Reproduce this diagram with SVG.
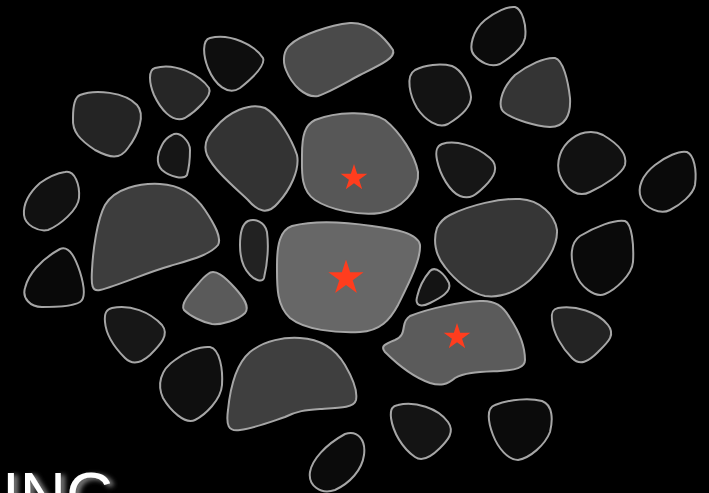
<svg xmlns="http://www.w3.org/2000/svg" xmlns:xlink="http://www.w3.org/1999/xlink" width="709" height="493" viewBox="0 0 709 493">
<style>
.b{stroke:#a6a6a6;stroke-width:2;stroke-linejoin:round}
.s{fill:#ff3d1e}
.t{font-family:"Liberation Sans",Arial,sans-serif;font-size:64px;fill:#ffffff}
</style>
<defs>
<polygon id="star" points="0,-10 2.245,-3.09 9.51,-3.09 3.63,1.18 5.88,8.09 0,3.82 -5.88,8.09 -3.63,1.18 -9.51,-3.09 -2.245,-3.09"/>
<filter id="glow" x="-20%" y="-20%" width="140%" height="140%">
<feGaussianBlur in="SourceAlpha" stdDeviation="2.5" result="bl"/>
<feOffset in="bl" dx="4" dy="2" result="of"/>
<feFlood flood-color="#888888"/>
<feComposite in2="of" operator="in" result="sh"/>
<feMerge><feMergeNode in="sh"/><feMergeNode in="SourceGraphic"/></feMerge>
</filter>
</defs>
<rect width="709" height="493" fill="#000"/>
<g id="blobs">
<g id="b1"><path class="b" fill="#4a4a4a" d="M290,45 C300,35 330,25 350,23 C370,22 385,38 393,50 C396,58 380,65 360,75 C345,83 330,92 318,96 C305,98 292,85 286,70 C282,60 284,50 290,45 Z"/></g>
<g id="b2"><path class="b" fill="#0e0e0e" d="M210,38 C230,33 255,45 263,58 C266,66 250,80 240,88 C228,96 215,85 208,68 C203,55 202,40 210,38 Z"/></g>
<g id="b3"><path class="b" fill="#262626" d="M155,68 C175,62 200,75 209,88 C213,96 195,112 185,118 C172,124 160,108 154,95 C149,83 148,70 155,68 Z"/></g>
<g id="b4"><path class="b" fill="#242424" d="M80,95 C95,89 125,92 137,105 C146,115 138,135 128,148 C120,160 110,158 95,150 C80,140 72,132 73,118 C73,105 75,97 80,95 Z"/></g>
<g id="b5"><path class="b" fill="#161616" d="M172,135 C180,130 190,142 190,150 C190,158 189,168 187,175 C184,180 170,177 162,170 C155,163 158,152 162,145 C165,139 168,137 172,135 Z"/></g>
<g id="b6"><path class="b" fill="#333333" d="M215,128 C228,112 250,102 265,108 C278,115 292,140 297,155 C300,170 290,190 278,203 C268,215 258,212 248,200 C232,185 214,170 207,155 C203,145 207,136 215,128 Z"/></g>
<g id="b7"><path class="b" fill="#575757" d="M315,120 C335,112 370,110 385,120 C400,132 415,155 418,172 C420,190 400,210 380,213 C360,216 330,210 315,200 C300,190 302,170 302,155 C302,135 305,125 315,120 Z"/><use class="s" href="#star" transform="translate(354,178) scale(1.4)"/></g>
<g id="b8"><path class="b" fill="#111111" d="M65,172 C75,170 80,185 79,198 C78,210 60,225 48,230 C38,232 25,225 24,215 C23,203 30,192 40,183 C50,176 58,173 65,172 Z"/></g>
<g id="b9"><path class="b" fill="#3d3d3d" d="M105,205 C115,188 140,183 160,184 C180,185 195,195 205,210 C215,225 222,238 218,245 C210,255 190,260 170,266 C145,273 120,285 100,290 C92,292 91,285 92,270 C93,250 97,220 105,205 Z"/></g>
<g id="b10"><path class="b" fill="#222222" d="M248,221 C255,218 265,222 267,232 C269,248 267,265 264,278 C262,283 255,280 250,275 C243,268 240,258 240,245 C240,232 242,224 248,221 Z"/></g>
<g id="b11"><path class="b" fill="#676767" d="M292,226 C315,220 345,222 372,226 C395,229 418,233 420,245 C421,260 408,285 398,305 C390,320 380,331 360,332 C335,333 305,330 290,318 C276,305 277,285 277,265 C277,245 280,230 292,226 Z"/><use class="s" href="#star" transform="translate(346,278) scale(1.85)"/></g>
<g id="b12"><path class="b" fill="#5a5a5a" d="M208,274 C215,268 225,277 235,288 C244,298 250,307 245,313 C238,320 222,325 212,324 C202,322 190,316 184,310 C180,304 190,293 198,284 C202,279 205,276 208,274 Z"/></g>
<g id="b13"><path class="b" fill="#363636" d="M450,215 C470,205 500,198 520,199 C540,200 555,215 557,230 C558,248 545,265 530,280 C515,293 500,298 485,296 C470,293 455,280 445,267 C435,255 433,240 437,228 C440,222 444,218 450,215 Z"/></g>
<g id="b14"><path class="b" fill="#161616" d="M442,144 C455,140 475,145 490,158 C500,167 494,177 485,186 C476,195 470,200 460,196 C450,192 440,175 437,160 C435,150 437,146 442,144 Z"/></g>
<g id="b15"><path class="b" fill="#141414" d="M430,271 C436,265 445,275 449,283 C452,292 440,298 430,303 C420,308 415,305 417,297 C419,288 424,278 430,271 Z"/></g>
<g id="b16"><path class="b" fill="#5b5b5b" d="M410,316 C430,308 460,302 480,301 C495,300 503,306 510,318 C518,330 525,345 525,360 C525,368 515,370 500,371 C480,372 465,372 455,378 C447,385 440,386 430,383 C410,376 395,362 385,352 C380,346 385,344 395,340 C402,337 403,333 404,326 C405,320 407,318 410,316 Z"/><use class="s" href="#star" transform="translate(457,337) scale(1.4)"/></g>
<g id="b17"><path class="b" fill="#171717" d="M112,308 C130,304 150,312 162,325 C170,335 160,345 150,355 C140,364 132,365 125,358 C115,348 106,335 105,322 C104,312 107,309 112,308 Z"/></g>
<g id="b18"><path class="b" fill="#090909" d="M60,249 C70,245 76,260 80,272 C84,285 86,298 80,302 C72,307 55,307 42,307 C30,307 22,298 25,288 C28,275 40,260 60,249 Z"/></g>
<g id="b19"><path class="b" fill="#0f0f0f" d="M175,360 C185,352 200,346 210,347 C220,349 223,370 222,385 C221,400 205,415 195,420 C185,425 170,410 163,398 C157,385 160,370 175,360 Z"/></g>
<g id="b20"><path class="b" fill="#3f3f3f" d="M250,352 C265,340 285,337 300,338 C320,339 335,348 345,365 C352,377 358,390 356,400 C354,408 340,408 320,409 C305,410 297,411 285,417 C270,422 255,428 240,430 C228,432 226,425 228,410 C230,390 235,365 250,352 Z"/></g>
<g id="b21"><path class="b" fill="#0b0b0b" d="M345,434 C358,430 366,440 364,455 C362,470 350,483 335,490 C320,495 308,485 310,472 C312,460 325,445 345,434 Z"/></g>
<g id="b22"><path class="b" fill="#141414" d="M398,405 C415,401 438,408 448,422 C455,432 448,440 440,448 C430,458 422,462 415,457 C402,448 393,432 391,418 C390,408 393,406 398,405 Z"/></g>
<g id="b23"><path class="b" fill="#0b0b0b" d="M495,405 C510,399 530,398 542,401 C553,405 553,420 550,432 C545,445 530,458 518,460 C508,460 498,448 493,435 C488,422 486,408 495,405 Z"/></g>
<g id="b24"><path class="b" fill="#232323" d="M558,308 C575,305 598,312 608,325 C616,335 608,342 598,352 C588,362 580,366 572,358 C562,348 553,333 552,320 C551,312 553,309 558,308 Z"/></g>
<g id="b25"><path class="b" fill="#0a0a0a" d="M580,236 C595,227 615,219 625,221 C632,224 634,245 633,262 C632,275 615,290 605,294 C595,298 580,287 575,272 C570,258 570,243 580,236 Z"/></g>
<g id="b26"><path class="b" fill="#343434" d="M515,75 C528,65 545,57 555,58 C563,60 568,80 570,98 C571,115 565,127 550,127 C535,126 515,120 505,113 C497,108 500,90 515,75 Z"/></g>
<g id="b27"><path class="b" fill="#0b0b0b" d="M485,20 C495,12 508,6 515,7 C522,9 527,25 525,38 C523,48 510,58 500,64 C490,68 480,62 474,55 C468,48 473,30 485,20 Z"/></g>
<g id="b28"><path class="b" fill="#131313" d="M415,70 C425,65 440,63 452,66 C462,70 470,85 471,97 C471,108 458,118 448,124 C438,129 425,120 417,108 C410,96 405,76 415,70 Z"/></g>
<g id="b29"><path class="b" fill="#111111" d="M568,142 C578,132 592,129 603,135 C615,142 628,152 625,165 C622,174 605,185 590,192 C578,198 568,190 562,180 C555,168 558,152 568,142 Z"/></g>
<g id="b30"><path class="b" fill="#0a0a0a" d="M655,165 C665,157 680,150 687,152 C694,155 697,170 695,185 C693,195 680,205 670,210 C660,215 645,208 641,198 C637,188 642,175 655,165 Z"/></g>
</g>
<text class="t" x="2" y="518" filter="url(#glow)">ING</text>
</svg>
